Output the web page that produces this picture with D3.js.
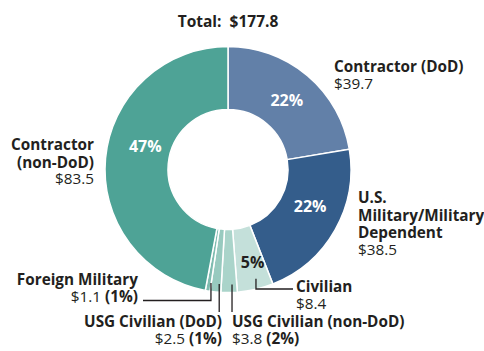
<!DOCTYPE html>
<html>
<head>
<meta charset="utf-8">
<script src="https://cdn.jsdelivr.net/npm/d3@7"></script>
<style>
  html, body { margin: 0; padding: 0; background: #fff; }
  svg { display: block; font-family: "Open Sans", "Noto Sans", sans-serif; }
  .name { font-weight: 700; fill: #231f20; }
  .val { font-weight: 400; fill: #231f20; }
  .pct { font-weight: 700; fill: #fff; }
</style>
</head>
<body>
<svg id="chart" width="484" height="351"></svg>
<script>
// Spending by payer, clockwise from 12 o'clock
const categories = [
  "Contractor (DoD)",
  "U.S. Military/Military Dependent",
  "Civilian",
  "USG Civilian (non-DoD)",
  "USG Civilian (DoD)",
  "Foreign Military",
  "Contractor (non-DoD)"
];
const values = [39.7, 38.5, 8.4, 3.8, 2.5, 1.1, 83.5];
const percents = ["22%", "22%", "5%", "2%", "1%", "1%", "47%"];
const totalLabel = "Total:  $177.8";
const colors = ["#6280a8", "#345d8b", "#c4e0da", "#aad4ca", "#98cabf", "#7fbcb0", "#4ea396"];

const svg = d3.select("#chart");
const cx = 228, cy = 169.5, rOuter = 123, rInner = 60;

const pie = d3.pie().sort(null).value(d => d.value);
const arc = d3.arc().innerRadius(rInner).outerRadius(rOuter);
const data = categories.map((c, i) => ({ name: c, value: values[i], pct: percents[i], color: colors[i] }));
const arcs = pie(data);

const g = svg.append("g").attr("transform", `translate(${cx},${cy})`);

g.selectAll("path.slice")
  .data(arcs)
  .join("path")
  .attr("class", "slice")
  .attr("d", arc)
  .attr("fill", d => d.data.color)
  .attr("stroke", "#fff")
  .attr("stroke-width", 1.5)
  .attr("stroke-linejoin", "round");

// point on the ring at a given angle (radians, clockwise from top) and radius
const polar = (a, r) => [r * Math.sin(a), -r * Math.cos(a)];
const mid = d => (d.startAngle + d.endAngle) / 2;

// Percent labels inside the large slices: angle nudge (deg) and radius
const insideLabels = [
  { i: 0, dAng: 0, r: 91, fill: "#fff" },
  { i: 1, dAng: -5.5, r: 90, fill: "#fff" },
  { i: 2, dAng: -2, r: 96, fill: "#231f20" },
  { i: 6, dAng: 10.5, r: 86, fill: "#fff" }
];
insideLabels.forEach(l => {
  const d = arcs[l.i];
  const [x, y] = polar(mid(d) + l.dAng * Math.PI / 180, l.r);
  g.append("text")
    .attr("class", "pct")
    .attr("x", x).attr("y", y)
    .attr("dy", "0.36em")
    .attr("text-anchor", "middle")
    .attr("font-size", 16)
    .style("fill", l.fill)
    .text(d.data.pct);
});

// Leader lines for the thin slices at the bottom
const leaders = [
  { i: 2, r: 112, dx: 3, downTo: 289, across: 293 },
  { i: 3, r: 115, dx: 3, downTo: 312, across: null },
  { i: 4, r: 115, dx: 3, downTo: 312, across: null },
  { i: 5, r: 115, dx: 2, downTo: 300.5, across: 143 }
];
leaders.forEach(l => {
  const d = arcs[l.i];
  const [px, py] = polar(mid(d), l.r);
  const x0 = cx + px + l.dx, y0 = cy + py;
  const pts = [[x0, y0], [x0, l.downTo]];
  if (l.across !== null) pts.push([l.across, l.downTo]);
  svg.append("path")
    .attr("d", d3.line()(pts))
    .attr("fill", "none")
    .attr("stroke", "#231f20")
    .attr("stroke-width", 1.3);
});

// Title
svg.append("text")
  .attr("class", "name")
  .attr("x", cx).attr("y", 26.5)
  .attr("text-anchor", "middle")
  .attr("font-size", 15.5)
  .attr("xml:space", "preserve")
  .style("white-space", "pre")
  .text(totalLabel);

// Outside labels: bold name lines, then the value (plus a bold percent for thin slices)
const outside = [
  { x: 334, y: 72, anchor: "start", lines: ["Contractor (DoD)"], value: "$39.7", pct: null },
  { x: 358, y: 203, anchor: "start", lines: ["U.S.", "Military/Military", "Dependent"], value: "$38.5", pct: null },
  { x: 296, y: 292, anchor: "start", lines: ["Civilian"], value: "$8.4", pct: null },
  { x: 232, y: 327, anchor: "start", lines: ["USG Civilian (non-DoD)"], value: "$3.8", pct: "(2%)" },
  { x: 222, y: 327, anchor: "end", lines: ["USG Civilian (DoD)"], value: "$2.5", pct: "(1%)" },
  { x: 138, y: 285, anchor: "end", lines: ["Foreign Military"], value: "$1.1", pct: "(1%)" },
  { x: 94, y: 150, anchor: "end", lines: ["Contractor", "(non-DoD)"], value: "$83.5", pct: null }
];
const lh = 17.5;
outside.forEach(o => {
  const t = svg.append("text")
    .attr("x", o.x).attr("y", o.y)
    .attr("text-anchor", o.anchor)
    .attr("font-size", 15.3);
  o.lines.forEach((ln, k) => {
    t.append("tspan").attr("class", "name")
      .attr("x", o.x).attr("y", o.y + k * lh)
      .text(ln);
  });
  const vy = o.y + o.lines.length * lh - 1;
  t.append("tspan").attr("class", "val")
    .attr("x", o.x).attr("y", vy)
    .text(o.value);
  if (o.pct) {
    t.append("tspan").attr("class", "name").text(" " + o.pct);
  }
});
</script>
</body>
</html>
